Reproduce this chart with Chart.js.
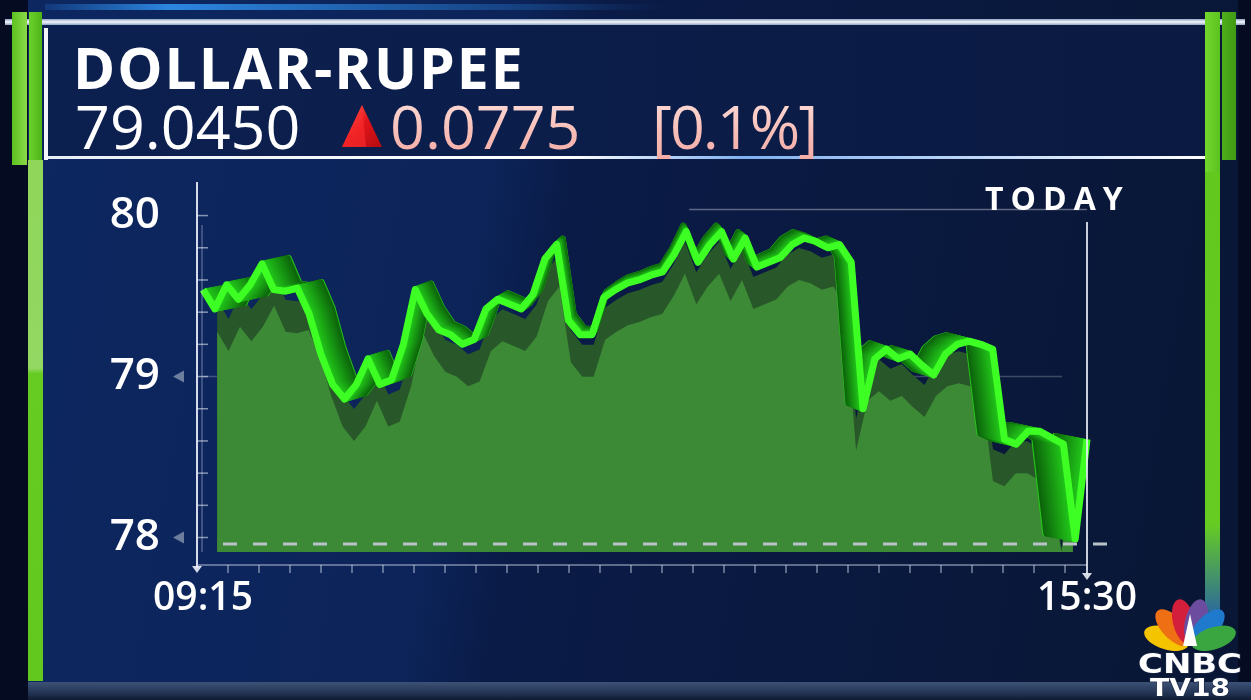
<!DOCTYPE html>
<html>
<head>
<meta charset="utf-8">
<title>Dollar-Rupee</title>
<script src="https://cdn.jsdelivr.net/npm/chart.js@4.4.1/dist/chart.umd.min.js"></script>
<style>
  html, body { margin: 0; padding: 0; }
  body {
    width: 1251px; height: 700px; overflow: hidden; position: relative;
    font-family: "Open Sans", sans-serif; color: #fff;
    background: linear-gradient(100deg, #0d2761 0%, #0c2459 38%, #0a1b47 44%, #091634 100%);
  }
  .abs { position: absolute; }
  #leftStrip { left: 0; top: 0; width: 28px; height: 700px; background: #050c22; }
  #rightStrip { left: 1238px; top: 0; width: 13px; height: 700px; background: #050c22; }
  #header { left: 43px; top: 24px; width: 1162px; height: 134px;
    background: linear-gradient(90deg, #0c2050 0%, #0b1c47 60%, #0a1a42 100%); }
  #topBlue { left: 45px; top: 4px; width: 620px; height: 6px;
    background: linear-gradient(90deg, rgba(40,130,230,0.2), #2c86e0 20%, rgba(40,120,220,0) 100%); }
  #topWhite { left: 5px; top: 19px; width: 1240px; height: 6px;
    background: linear-gradient(180deg, #8fa3c4, #f4f7fb 50%, #8fa3c4); }
  #midLine { left: 48px; top: 156px; width: 1160px; height: 3px;
    background: linear-gradient(90deg, #e8eef8, #ffffff 45%, #7fb0f0 60%, #ffffff 100%); }
  #bottomBand { left: 28px; top: 682px; width: 1223px; height: 18px;
    background: linear-gradient(180deg, #3d5276, #233555 60%, #101a30); }
  .bar { position: absolute; }
  #hdrBarL1 { left: 12px; top: 12px; width: 15px; height: 153px; background: linear-gradient(90deg,#5cc21e,#8ad84a); }
  #hdrBarL2 { left: 29px; top: 12px; width: 13px; height: 153px; background: linear-gradient(90deg,#6ad22a,#4fb318); }
  #hdrEdgeL { left: 44px; top: 28px; width: 4px; height: 132px; background: #f2f5fa; }
  #barL { left: 28px; top: 160px; width: 15px; height: 521px;
    background: linear-gradient(180deg, #8fd65a 0%, #92d862 40%, #66cc22 41%, #62c81e 100%); }
  #hdrBarR1 { left: 1205px; top: 12px; width: 15px; height: 160px; background: linear-gradient(90deg,#72d62e,#5cc21e); }
  #hdrBarR2 { left: 1222px; top: 12px; width: 14px; height: 148px; background: linear-gradient(90deg,#4fae1c,#3f9a14); }
  #barR { left: 1205px; top: 172px; width: 15px; height: 440px;
    background: linear-gradient(180deg, #62c81e, #66cc22 80%, #2d6b9a 100%); }
  .title { left: 73px; top: 31px; font-size: 57px; font-weight: 700; letter-spacing: 2px; line-height: 72px; }
  .quote { top: 88px; font-size: 61px; font-weight: 400; line-height: 76px; }
  .pink {
    background: linear-gradient(180deg, #fde6e2 0%, #f8bcb6 60%, #f2aaa2 100%);
    -webkit-background-clip: text; background-clip: text; color: transparent;
  }
  #today { left: 985px; top: 176px; font-size: 32px; font-weight: 700; letter-spacing: 7px; line-height: 44px; }
  #chart { position: absolute; left: 0; top: 0; }
</style>
</head>
<body>
<div id="leftStrip" class="abs"></div>
<div id="rightStrip" class="abs"></div>
<div id="header" class="abs"></div>
<div id="topBlue" class="abs"></div>
<div id="topWhite" class="abs"></div>
<div id="midLine" class="abs"></div>
<div id="bottomBand" class="abs"></div>
<div id="hdrBarL1" class="bar"></div>
<div id="hdrBarL2" class="bar"></div>
<div id="hdrEdgeL" class="bar"></div>
<div id="barL" class="bar"></div>
<div id="hdrBarR1" class="bar"></div>
<div id="hdrBarR2" class="bar"></div>
<div id="barR" class="bar"></div>

<canvas id="chart" width="1251" height="700"></canvas>

<div class="abs title">DOLLAR-RUPEE</div>
<div class="abs quote" style="left:75px;">79.0450</div>
<svg class="abs" style="left:340px;top:103px" width="44" height="46" viewBox="0 0 44 46">
  <defs>
    <linearGradient id="tri" x1="0" y1="0" x2="1" y2="1">
      <stop offset="0" stop-color="#ff6a5a"/>
      <stop offset="0.5" stop-color="#e0141a"/>
      <stop offset="1" stop-color="#b30c12"/>
    </linearGradient>
  </defs>
  <polygon points="22,2 42,44 2,44" fill="url(#tri)"/>
  <polygon points="22,2 26,44 2,44" fill="#ff3030" opacity="0.55"/>
</svg>
<div class="abs quote pink" style="left:390px;">0.0775</div>
<div class="abs quote pink" style="left:652px;letter-spacing:-2px;">[0.1%]</div>
<div id="today" class="abs">TODAY</div>

<svg class="abs" style="left:1133px;top:596px" width="114" height="104" viewBox="0 0 114 104">
  <g transform="translate(57,50)">
    <ellipse cx="0" cy="-25" rx="11" ry="23" fill="#f5c400" transform="rotate(-72)"/>
    <ellipse cx="0" cy="-25" rx="11" ry="23" fill="#ef6f14" transform="rotate(-43)"/>
    <ellipse cx="0" cy="-25" rx="11" ry="23" fill="#d41f3c" transform="rotate(-14)"/>
    <ellipse cx="0" cy="-25" rx="11" ry="23" fill="#6c4c9e" transform="rotate(14)"/>
    <ellipse cx="0" cy="-25" rx="11" ry="23" fill="#1f79cc" transform="rotate(43)"/>
    <ellipse cx="0" cy="-25" rx="11" ry="23" fill="#3aa640" transform="rotate(72)"/>
    <polygon points="0,-32 -7,0 7,0" fill="#ffffff"/>
  </g>
  <text x="5" y="77" textLength="104" lengthAdjust="spacingAndGlyphs" font-family="DejaVu Sans" font-weight="bold" font-size="27" fill="#fff" stroke="#1a2a48" stroke-width="1.5" paint-order="stroke">CNBC</text>
  <text x="17" y="100" textLength="80" lengthAdjust="spacingAndGlyphs" font-family="DejaVu Sans" font-weight="bold" font-size="25" fill="#fff" stroke="#1a2a48" stroke-width="1.5" paint-order="stroke">TV18</text>
</svg>

<script>
// intraday session, 5-minute marks
const times = [
  "09:15","09:20","09:25","09:30","09:35","09:40","09:45","09:50","09:55","10:00",
  "10:05","10:10","10:15","10:20","10:25","10:30","10:35","10:40","10:45","10:50",
  "10:55","11:00","11:05","11:10","11:15","11:20","11:25","11:30","11:35","11:40",
  "11:45","11:50","11:55","12:00","12:05","12:10","12:15","12:20","12:25","12:30",
  "12:35","12:40","12:45","12:50","12:55","13:00","13:05","13:10","13:15","13:20",
  "13:25","13:30","13:35","13:40","13:45","13:50","13:55","14:00","14:05","14:10",
  "14:15","14:20","14:25","14:30","14:35","14:40","14:45","14:50","14:55","15:00",
  "15:05","15:10","15:15","15:20","15:25","15:30"
];

// USD/INR
const rupee = [
  79.54, 79.42, 79.57, 79.48, 79.57, 79.70, 79.54, 79.53, 79.55, 79.39,
  79.14, 78.95, 78.86, 78.95, 79.11, 78.95, 78.98, 79.20, 79.54, 79.39,
  79.29, 79.26, 79.20, 79.23, 79.42, 79.48, 79.45, 79.42, 79.51, 79.73,
  79.82, 79.35, 79.26, 79.26, 79.49, 79.54, 79.58, 79.60, 79.63, 79.65,
  79.76, 79.90, 79.71, 79.82, 79.90, 79.73, 79.86, 79.68, 79.71, 79.74,
  79.82, 79.86, 79.84, 79.80, 79.82, 79.71, 78.80, 79.11, 79.17, 79.11,
  79.14, 79.07, 79.01, 79.14, 79.20, 79.22, 79.20, 79.17, 78.61, 78.58,
  78.66, 78.66, 78.62, 78.58, 77.99, 78.61
];

const yTicks = [78, 79, 80];
const prevClose = 77.96;

function mix(c1, c2, t) {
  const a = [1, 3, 5].map(i => parseInt(c1.substr(i, 2), 16));
  const b = [1, 3, 5].map(i => parseInt(c2.substr(i, 2), 16));
  return "rgb(" + a.map((v, i) => Math.round(v + (b[i] - v) * t)).join(",") + ")";
}

function tracePath(ctx, pts, fx, fy) {
  ctx.beginPath();
  pts.forEach((p, i) => {
    const x = fx(p), y = fy(p);
    if (i) ctx.lineTo(x, y); else ctx.moveTo(x, y);
  });
}

// fills and the 3d ribbon, drawn from the points the line controller computed
const depthPlugin = {
  id: "depth",
  beforeDatasetDraw(chart, args) {
    const ds = chart.data.datasets[args.index];
    const ctx = chart.ctx;
    const pts = args.meta.data;
    const a = chart.chartArea;
    const cx = (a.left + a.right) / 2;

    if (ds.areaColor) {
      const lean = x => x + (cx - x) * 0.032;
      ctx.save();
      tracePath(ctx, pts, p => lean(p.x), p => Math.min(p.y + ds.drop, a.bottom));
      ctx.lineTo(lean(pts[pts.length - 1].x), a.bottom);
      ctx.lineTo(lean(pts[0].x), a.bottom);
      ctx.closePath();
      ctx.fillStyle = ds.areaColor;
      ctx.fill();
      ctx.restore();
    }

    if (ds.ribbon) {
      ctx.save();
      ctx.lineJoin = "round";
      ctx.lineWidth = 6;
      for (let k = ds.ribbon; k >= 1; k--) {
        const t = k / ds.ribbon;
        ctx.strokeStyle = k === ds.ribbon ? "#25c21a" : mix("#22c81a", "#0c5f0b", t);
        tracePath(ctx, pts, p => p.x + t * (cx - p.x) * 0.07, p => p.y - t * 6);
        ctx.stroke();
      }
      ctx.restore();
    }
  }
};

// axis lines, minor ticks, markers and the dashed base line
const decorPlugin = {
  id: "decor",
  beforeDatasetsDraw(chart) {
    const ctx = chart.ctx;
    const a = chart.chartArea;
    const y = chart.scales.y;
    ctx.save();
    ctx.strokeStyle = "rgba(255,255,255,0.22)";
    ctx.lineWidth = 1.5;
    const y79 = y.getPixelForValue(79);
    ctx.beginPath(); ctx.moveTo(a.left, y79); ctx.lineTo(a.right - 25, y79); ctx.stroke();
    const y80 = y.getPixelForValue(80) - 6;
    ctx.strokeStyle = "rgba(255,255,255,0.35)";
    ctx.beginPath(); ctx.moveTo(a.left + (a.right - a.left) * 0.55, y80); ctx.lineTo(a.right, y80); ctx.stroke();
    ctx.restore();
  },
  afterDatasetsDraw(chart) {
    const ctx = chart.ctx;
    const a = chart.chartArea;
    const y = chart.scales.y;
    ctx.save();

    // dashed base line
    const yb = y.getPixelForValue(prevClose);
    ctx.strokeStyle = "#b9c1c9";
    ctx.lineWidth = 3;
    ctx.setLineDash([14, 16]);
    ctx.beginPath(); ctx.moveTo(a.left + 20, yb); ctx.lineTo(a.right + 28, yb); ctx.stroke();
    ctx.setLineDash([]);

    // left axis, double line
    const ax = a.left - 6;
    ctx.strokeStyle = "rgba(235,240,250,0.9)";
    ctx.lineWidth = 2;
    ctx.beginPath(); ctx.moveTo(ax, a.top - 3); ctx.lineTo(ax, a.bottom + 16); ctx.stroke();
    ctx.strokeStyle = "rgba(235,240,250,0.45)";
    ctx.lineWidth = 1;
    ctx.beginPath(); ctx.moveTo(ax + 5, a.top + 40); ctx.lineTo(ax + 5, a.bottom); ctx.stroke();
    ctx.fillStyle = "rgba(235,240,250,0.9)";
    ctx.beginPath(); ctx.moveTo(ax - 5, a.bottom + 14); ctx.lineTo(ax + 5, a.bottom + 14); ctx.lineTo(ax, a.bottom + 21); ctx.fill();

    // minor ticks on the value axis
    ctx.strokeStyle = "rgba(235,240,250,0.55)";
    ctx.lineWidth = 1.5;
    for (let v = 78; v <= 80.01; v += 0.2) {
      const py = y.getPixelForValue(v);
      ctx.beginPath(); ctx.moveTo(ax, py); ctx.lineTo(ax + 11, py); ctx.stroke();
    }

    // small markers next to 79 and 78
    ctx.fillStyle = "#6d7d9e";
    [79, 78].forEach(v => {
      const py = y.getPixelForValue(v);
      ctx.beginPath(); ctx.moveTo(ax - 24, py); ctx.lineTo(ax - 13, py - 6); ctx.lineTo(ax - 13, py + 6); ctx.fill();
    });

    // time axis with small ticks
    const by = a.bottom + 13;
    ctx.strokeStyle = "rgba(200,210,230,0.6)";
    ctx.lineWidth = 1.5;
    ctx.beginPath(); ctx.moveTo(ax, by); ctx.lineTo(a.right, by); ctx.stroke();
    for (let x = ax + 31; x < a.right; x += 31) {
      ctx.beginPath(); ctx.moveTo(x, by); ctx.lineTo(x, by + 8); ctx.stroke();
    }

    // "today" marker on the right
    ctx.strokeStyle = "rgba(235,240,250,0.85)";
    ctx.lineWidth = 2;
    ctx.beginPath(); ctx.moveTo(a.right, a.top + 37); ctx.lineTo(a.right, a.bottom + 22); ctx.stroke();
    ctx.fillStyle = "rgba(235,240,250,0.9)";
    ctx.beginPath(); ctx.moveTo(a.right - 5, a.bottom + 21); ctx.lineTo(a.right + 5, a.bottom + 21); ctx.lineTo(a.right, a.bottom + 28); ctx.fill();

    ctx.restore();
  }
};

new Chart(document.getElementById("chart"), {
  type: "line",
  data: {
    labels: times,
    datasets: [
      { label: "USD/INR", data: rupee, borderColor: "#3dff24", borderWidth: 7, pointRadius: 0,
        borderJoinStyle: "round", clip: false, ribbon: 24, order: 0 },
      { label: "area", data: rupee, showLine: false, pointRadius: 0, areaColor: "#3c8a35", drop: 42, order: 1 },
      { label: "shadow", data: rupee, showLine: false, pointRadius: 0, areaColor: "#28572a", drop: 10, order: 2 }
    ]
  },
  options: {
    responsive: false,
    animation: false,
    events: [],
    layout: { padding: { top: 185, right: 164, left: 0, bottom: 0 } },
    plugins: { legend: { display: false }, tooltip: { enabled: false } },
    scales: {
      x: {
        grid: { display: false },
        border: { display: false },
        ticks: {
          autoSkip: false, maxRotation: 0, color: "#ffffff", padding: 15,
          font: { family: "Open Sans", size: 39, weight: "600" },
          callback: (v, i) => (i === 0 || i === times.length - 1) ? times[i] : ""
        },
        afterFit: s => { s.height = 148; s.paddingLeft = 0; s.paddingRight = 0; }
      },
      y: {
        min: 77.91, max: 80.19,
        grid: { display: false, drawTicks: false },
        border: { display: false },
        afterBuildTicks: s => { s.ticks = yTicks.map(v => ({ value: v })); },
        ticks: { color: "#ffffff", padding: 43, font: { family: "Open Sans", size: 44, weight: "600" } },
        afterFit: s => { s.width = 203; s.paddingTop = 0; s.paddingBottom = 0; }
      }
    }
  },
  plugins: [depthPlugin, decorPlugin]
});
</script>
</body>
</html>
